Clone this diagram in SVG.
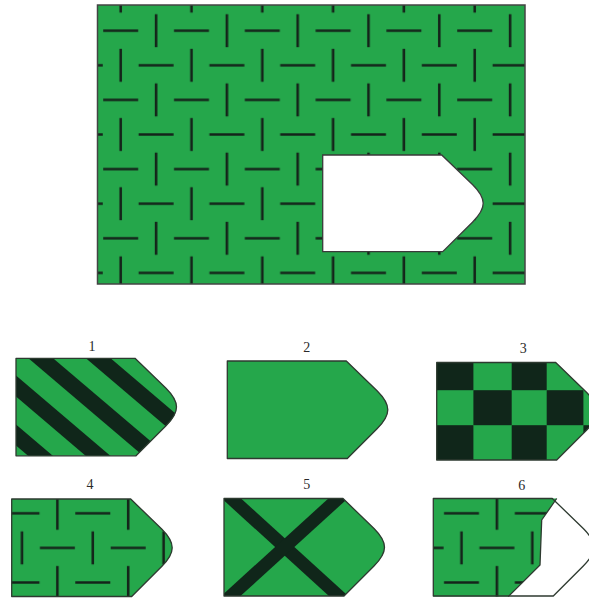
<svg xmlns="http://www.w3.org/2000/svg" width="589" height="599" viewBox="0 0 589 599">
<style>
.g{fill:#25a74b}
.d{fill:#10261a}
.ol{fill:none;stroke:#2e3a30;stroke-width:1.3;stroke-linejoin:round}
.dash{stroke:#14241a;stroke-width:2.6;fill:none}
.stripe{stroke:#10261a;fill:none}
.lbl{font-family:"Liberation Serif",serif;font-size:14px;fill:#2a2a2a;text-anchor:middle}
</style>
<defs>
<path id="shape" d="M0,0 H119 L150,30 C157.5,37.5 160.5,43 160.5,48.75 C160.5,54.5 157.5,60 150,67.5 L120,97.5 H0 Z"/>
<clipPath id="clipShape"><use href="#shape"/></clipPath>
<g id="tile">
<line class="dash" x1="0.2" y1="17.3" x2="35.2" y2="17.3"/>
<line class="dash" x1="53.1" y1="0.8" x2="53.1" y2="33.8"/>
<line class="dash" x1="17.7" y1="35.4" x2="17.7" y2="68.4"/>
<line class="dash" x1="35.6" y1="51.9" x2="70.6" y2="51.9"/>
</g>
<pattern id="patMain" patternUnits="userSpaceOnUse" x="103" y="13.4" width="70.8" height="69.2"><use href="#tile"/></pattern>
<pattern id="pat4" patternUnits="userSpaceOnUse" x="-7.4" y="-3" width="70.8" height="69.2"><use href="#tile"/></pattern>
<pattern id="pat6" patternUnits="userSpaceOnUse" x="10.5" y="-2.5" width="70.8" height="69.2"><use href="#tile"/></pattern>
</defs>

<g id="main">
<rect class="g" x="97.5" y="5" width="427.5" height="279"/>
<rect x="97.5" y="5" width="427.5" height="279" fill="url(#patMain)"/>
<rect x="97.5" y="5" width="427.5" height="279" fill="none" stroke="#444" stroke-width="1.5"/>
<use href="#shape" transform="translate(322.7,155) scale(1,0.992)" fill="#fff" stroke="#3a3a3a" stroke-width="1.3"/>
</g>

<g id="opt1" transform="translate(16,358.3)">
<use href="#shape" class="g"/>
<g clip-path="url(#clipShape)" class="stripe" stroke-width="16">
<line x1="-17.7" y1="-85" x2="322.3" y2="204"/>
<line x1="-75.2" y1="-85" x2="264.8" y2="204"/>
<line x1="-132.7" y1="-85" x2="207.3" y2="204"/>
<line x1="-190.2" y1="-85" x2="149.8" y2="204"/>
</g>
<use href="#shape" class="ol"/>
</g>
<text class="lbl" x="92" y="351">1</text>

<g id="opt2" transform="translate(227.3,361)">
<use href="#shape" class="g"/>
<use href="#shape" class="ol"/>
</g>
<text class="lbl" x="306.7" y="352">2</text>

<g id="opt3" transform="translate(436.7,362.5)">
<use href="#shape" class="g"/>
<g clip-path="url(#clipShape)" class="d">
<rect x="0" y="0" width="36.7" height="27.7"/>
<rect x="75" y="0" width="35" height="27.7"/>
<rect x="36.7" y="27.7" width="38.3" height="35"/>
<rect x="110" y="27.7" width="36.7" height="35"/>
<rect x="0" y="62.7" width="36.7" height="40"/>
<rect x="75" y="62.7" width="35" height="40"/>
<rect x="146.7" y="62.7" width="40" height="40"/>
</g>
<use href="#shape" class="ol"/>
</g>
<text class="lbl" x="523.3" y="353">3</text>

<g id="opt4" transform="translate(11.7,499)">
<use href="#shape" class="g"/>
<use href="#shape" fill="url(#pat4)"/>
<use href="#shape" class="ol"/>
</g>
<text class="lbl" x="90" y="489">4</text>

<g id="opt5" transform="translate(224,498.5)">
<use href="#shape" class="g"/>
<g clip-path="url(#clipShape)" class="stripe" stroke-width="13">
<line x1="-20.1" y1="-25" x2="144.8" y2="125"/>
<line x1="141.5" y1="-25" x2="-23.4" y2="125"/>
</g>
<use href="#shape" class="ol"/>
</g>
<text class="lbl" x="306.7" y="489">5</text>

<g id="opt6" transform="translate(433.3,498.5)">
<use href="#shape" fill="#fff"/>
<path class="g" d="M0,0 H123.4 L108.4,21.5 L106.7,66.5 L75,98 H0 Z"/>
<path fill="url(#pat6)" d="M0,0 H123.4 L108.4,21.5 L106.7,66.5 L75,98 H0 Z"/>
<path class="ol" d="M123.4,0 L108.4,21.5 L106.7,66.5 L75,98"/>
<use href="#shape" class="ol"/>
</g>
<text class="lbl" x="521.7" y="490">6</text>
</svg>
